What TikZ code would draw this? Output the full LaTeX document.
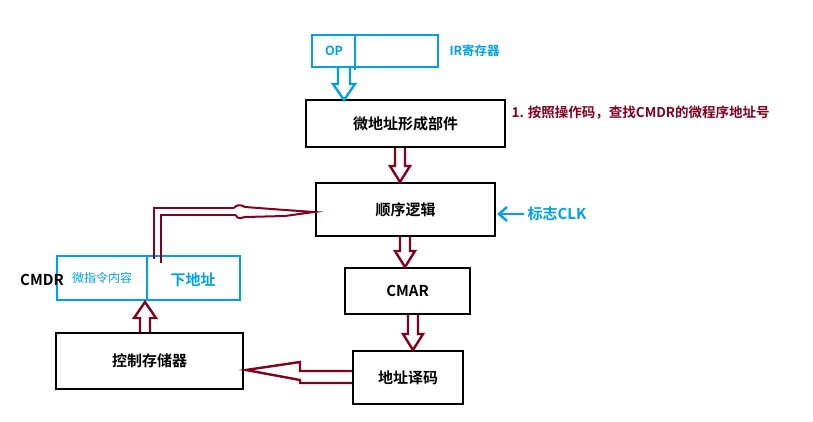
\documentclass[tikz,border=0pt]{standalone}
\usepackage{fontspec}
\setmainfont{Noto Sans CJK SC}[BoldFont={Noto Sans CJK SC Bold}]
\usetikzlibrary{calc}
\definecolor{dred}{RGB}{128,0,32}
\definecolor{cblue}{RGB}{0,160,230}
\begin{document}
\begin{tikzpicture}[x=1pt,y=-1pt,
  box/.style={draw=black,line width=2.6pt,font=\bfseries\fontsize{15}{17}\selectfont},
  bbox/.style={draw=cblue,line width=2.6pt},
  harrow/.style={draw=dred,line width=2.4pt,line join=miter}]
\useasboundingbox (0,0) rectangle (813,422);
% IR register
\draw[bbox] (312,35) rectangle (438,67);
\draw[bbox] (355,35) -- (355,70);
\node[text=cblue,font=\bfseries\fontsize{12.5}{14}\selectfont] (op) at (334,51) {OP};
\node[text=cblue,font=\bfseries\fontsize{12.5}{14}\selectfont,anchor=west] (ir) at (446,51) {IR寄存器};
% boxes
\node[box,minimum width=199pt,minimum height=47pt] (mf) at (405.5,123.5) {微地址形成部件};
\node[box,minimum width=179pt,minimum height=53pt] (sx) at (405.5,209.5) {顺序逻辑};
\node[box,minimum width=125pt,minimum height=46pt] (cmar) at (407.5,291) {CMAR};
\node[box,minimum width=110pt,minimum height=53pt] (dec) at (408,377.5) {地址译码};
\node[box,minimum width=187pt,minimum height=56pt] (cs) at (149.5,361) {控制存储器};
% CMDR
\draw[bbox] (57,256) rectangle (240,300);
\draw[bbox] (147,256) -- (147,300);
\node[text=cblue,font=\fontsize{12}{14}\selectfont] (wz) at (102,278) {微指令内容};
\node[text=cblue,font=\bfseries\fontsize{15}{17}\selectfont] (xd) at (193,280) {下地址};
\node[font=\bfseries\fontsize{15}{17}\selectfont] (cmdr) at (42,280) {CMDR};
% annotations
\node[text=dred,font=\bfseries\fontsize{13.5}{15}\selectfont,anchor=west] (ann) at (508,113) {1. 按照操作码，查找CMDR的微程序地址号};
\node[text=cblue,font=\bfseries\fontsize{15}{17}\selectfont,anchor=west] (clk) at (524,214) {标志CLK};
\draw[cblue,line width=2.4pt] (clk.west) -- (499,214);
\draw[cblue,line width=2.4pt] (507,207) -- (499,214) -- (507,221);
% blue hollow arrow
\draw[draw=cblue,line width=2.4pt] (338,68) -- (338,84) -- (333,84) -- (344,100) -- (355,84) -- (350,84) -- (350,68);
% red hollow down arrows
\draw[harrow] (395,148) -- (395,166) -- (390,166) -- (400,182) -- (410,166) -- (405,166) -- (405,148);
\draw[harrow] (400,237) -- (400,251) -- (395,251) -- (405,267) -- (415,251) -- (410,251) -- (410,237);
\draw[harrow] (408,315) -- (408,334) -- (403,334) -- (413,350) -- (423,334) -- (418,334) -- (418,315);
% up arrow
\draw[harrow] (140,332) -- (140,318) -- (134,318) -- (145,302) -- (156,318) -- (150,318) -- (150,332);
% left arrow dec -> cs
\draw[harrow] (352,371) -- (300,371) -- (300,362) -- (246,370) -- (300,380) -- (300,383) -- (352,383);
% sx -> CMDR
\draw[harrow,line width=2pt] (154,259) -- (154,208) -- (234,208);
\draw[harrow,line width=2pt] (161,263) -- (161,215) -- (236,215);
\draw[harrow,line width=2pt] (234,208) .. controls (236,205) and (240,204) .. (245,207) -- (285,210) -- (314,212) -- (285,216) -- (245,217) .. controls (240,219) and (236,218) .. (236,215);
\end{tikzpicture}
\end{document}
